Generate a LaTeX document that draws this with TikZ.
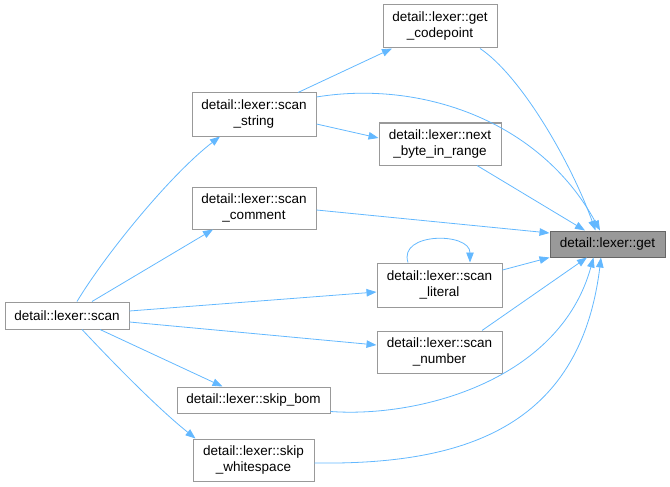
\documentclass[tikz,border=0pt]{standalone}
\usepackage{fontspec}
\setmainfont{Liberation Sans}
\usetikzlibrary{arrows.meta}
\definecolor{edgec}{HTML}{63B8FF}
\definecolor{boxb}{HTML}{999999}
\definecolor{getfill}{HTML}{999999}
\definecolor{getb}{HTML}{666666}
\begin{document}
\begin{tikzpicture}[x=1pt,y=-1pt,
  fn/.style={draw=boxb, fill=white, line width=1pt, inner sep=0pt, align=center,
    font=\fontsize{13.5}{16}\selectfont},
  ed/.style={draw=edgec, line width=0.8pt, -{Triangle[length=10pt,width=7.5pt]}}]
\useasboundingbox (0,0) rectangle (670,487);
% nodes
\node[fn, minimum width=114pt, minimum height=43pt] (gcp) at (440,26.5) {detail::lexer::get\\\_codepoint};
\node[fn, minimum width=122pt, minimum height=42pt] (nbr) at (440,144) {detail::lexer::next\\\_byte\_in\_range};
\node[fn, draw=getb, fill=getfill, minimum width=115pt, minimum height=26pt] (get) at (607.5,244) {detail::lexer::get};
\node[fn, minimum width=124pt, minimum height=43pt] (sst) at (254,114.5) {detail::lexer::scan\\\_string};
\node[fn, minimum width=124pt, minimum height=42pt] (scm) at (254,208) {detail::lexer::scan\\\_comment};
\node[fn, minimum width=124pt, minimum height=27pt] (scan) at (67,315.5) {detail::lexer::scan};
\node[fn, minimum width=125pt, minimum height=44pt] (slit) at (439.5,285) {detail::lexer::scan\\\_literal};
\node[fn, minimum width=125pt, minimum height=42pt] (snum) at (439.5,352) {detail::lexer::scan\\\_number};
\node[fn, minimum width=153pt, minimum height=26pt] (sbom) at (253.5,400) {detail::lexer::skip\_bom};
\node[fn, minimum width=121pt, minimum height=42pt] (sws) at (253.5,460) {detail::lexer::skip\\\_whitespace};
% edges from scan
\draw[ed] ([xshift=10pt]scan.north) .. controls (105,255) and (170,175) .. ([xshift=-34pt]sst.south);
\draw[ed] ([xshift=25pt]scan.north) -- ([xshift=-41pt]scm.south);
\draw[ed] ([yshift=4.5pt]scan.east) -- ([yshift=-7pt]slit.west);
\draw[ed] ([yshift=-6.5pt]scan.east) -- ([yshift=7pt]snum.west);
\draw[ed] ([xshift=33pt]scan.south) -- ([xshift=-31pt]sbom.north);
\draw[ed] ([xshift=15pt]scan.south) .. controls (120,370) and (160,410) .. ([xshift=-58pt]sws.north);
% edges from scan_string
\draw[ed] ([xshift=44pt]sst.north) -- ([xshift=-48pt]gcp.south);
\draw[ed] ([yshift=17.5pt]sst.east) .. controls (420,80) and (540,120) .. ([xshift=-7.5pt]get.north);
\draw[ed] ([yshift=-9.5pt]sst.east) -- ([yshift=6pt]nbr.west);
% others to get
\draw[ed] ([xshift=40pt]gcp.south) .. controls (520,75) and (570,160) .. ([xshift=-12pt]get.north);
\draw[ed] ([xshift=37pt]nbr.south) -- ([xshift=-22.5pt]get.north);
\draw[ed] ([yshift=-2pt]scm.east) -- ([yshift=11pt]get.west);
\draw[ed] ([yshift=15pt]slit.east) -- (get.south west);
\draw[ed] ([xshift=-31.5pt]slit.north) .. controls (398,232) and (470,232) .. ([xshift=30.5pt]slit.north);
\draw[ed] ([xshift=42.5pt]snum.north) -- ([xshift=-20.5pt]get.south);
\draw[ed] ([yshift=-11.5pt]sbom.east) .. controls (420,418) and (560,380) .. ([xshift=-14pt]get.south);
\draw[ed] ([yshift=-3pt]sws.east) .. controls (460,465) and (580,430) .. ([xshift=-6.5pt]get.south);
\end{tikzpicture}
\end{document}
